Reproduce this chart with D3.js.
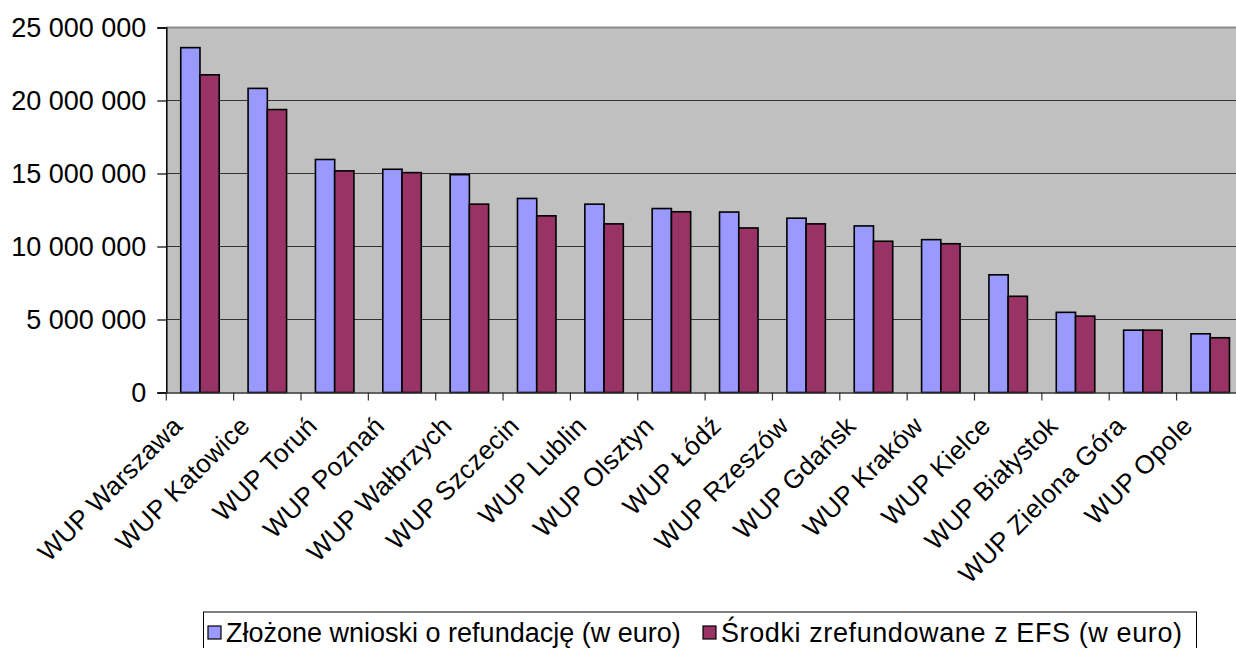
<!DOCTYPE html>
<html><head><meta charset="utf-8">
<script src="https://cdn.jsdelivr.net/npm/d3@7"></script>
<style>
html,body{margin:0;padding:0;background:#fff;}
svg text{font-family:"Liberation Sans",Arial,sans-serif;fill:#000;}
</style></head>
<body><svg id="c" width="1236" height="648"></svg>
<script>
const categories = ["WUP Warszawa","WUP Katowice","WUP Toruń","WUP Poznań","WUP Wałbrzych","WUP Szczecin","WUP Lublin","WUP Olsztyn","WUP Łódź","WUP Rzeszów","WUP Gdańsk","WUP Kraków","WUP Kielce","WUP Białystok","WUP Zielona Góra","WUP Opole"];
const seriesNames = ["Złożone wnioski o refundację (w euro)","Środki zrefundowane z EFS (w euro)"];
const submitted = [23620000,20830000,15960000,15290000,14920000,13290000,12900000,12600000,12360000,11940000,11410000,10470000,8060000,5490000,4270000,4020000];
const refunded  = [21760000,19380000,15180000,15060000,12900000,12100000,11550000,12380000,11270000,11550000,10360000,10190000,6590000,5230000,4270000,3750000];
const yTicks = [0,5000000,10000000,15000000,20000000,25000000];
const colors = ["#9999FF","#993366"];

const svg = d3.select("#c");
const pLeft = 166.3, pTop = 27.5, pBottom = 392.5, band = 67.35;
const pRight = pLeft + band*categories.length;

const x = d3.scaleBand().domain(categories).range([pLeft, pRight]).padding(0);
const y = d3.scaleLinear().domain([0,25000000]).range([pBottom, pTop]);

// plot background
svg.append("rect").attr("x",pLeft).attr("y",pTop).attr("width",pRight-pLeft).attr("height",pBottom-pTop).attr("fill","#C0C0C0");

// gridlines
svg.append("g").selectAll("line").data(yTicks.filter(d=>d>0)).join("line")
  .attr("x1",pLeft).attr("x2",pRight).attr("y1",d=>y(d)).attr("y2",d=>y(d))
  .attr("stroke",d=>d===25000000?"#8a8a8a":"#333").attr("stroke-width",d=>d===25000000?2:1.2);

// bars
const bw = x.bandwidth()/3.5;
const data = categories.map((c,i)=>({c, v:[submitted[i],refunded[i]]}));
const g = svg.append("g");
[0,1].forEach(s=>{
  g.selectAll(".b"+s).data(data).join("rect")
    .attr("class","b"+s)
    .attr("x",d=>x(d.c)+x.bandwidth()/2 - bw + s*bw)
    .attr("y",d=>y(d.v[s]))
    .attr("width",bw)
    .attr("height",d=>y(0)-y(d.v[s]))
    .attr("fill",colors[s]).attr("stroke","#000").attr("stroke-width",1.6);
});

// y axis
const yAxis = d3.axisLeft(y).tickValues(yTicks).tickSize(9).tickPadding(11)
  .tickFormat(d=>d3.format(",")(d).replace(/,/g," "));
const ya = svg.append("g").attr("transform",`translate(${pLeft},0)`).call(yAxis);
ya.select(".domain").attr("stroke","#000").attr("stroke-width",1.5);
ya.selectAll(".tick line").attr("stroke","#000").attr("stroke-width",1.2);
ya.selectAll("text").style("font-size","27px").attr("dy","0.35em");

// x axis
const xAxis = d3.axisBottom(x).tickSize(0).tickPadding(0);
const xa = svg.append("g").attr("transform",`translate(0,${pBottom})`).call(xAxis);
xa.select(".domain").attr("stroke","#333").attr("stroke-width",1.5);
svg.append("g").selectAll("line").data(categories).join("line")
  .attr("x1",d=>x(d)).attr("x2",d=>x(d)).attr("y1",pBottom).attr("y2",pBottom+8)
  .attr("stroke","#333").attr("stroke-width",1.2);
xa.selectAll(".tick text")
  .style("font-size","26px").style("letter-spacing","0.3px")
  .attr("text-anchor","end")
  .attr("transform","translate(-16,35) rotate(-45)")
  .attr("dy","0").attr("y",0);

// legend
const lg = svg.append("g");
lg.append("rect").attr("x",203.5).attr("y",612).attr("width",993).attr("height",50)
  .attr("fill","#fff").attr("stroke","#000").attr("stroke-width",1);
const legX = [208, 703];
seriesNames.forEach((n,i)=>{
  lg.append("rect").attr("x",legX[i]).attr("y",626).attr("width",13).attr("height",13)
    .attr("fill",colors[i]).attr("stroke","#000").attr("stroke-width",1.2);
  lg.append("text").attr("x",legX[i]+18).attr("y",642)
    .style("font-size","27px").style("letter-spacing",i===1?"0.6px":"0px").text(n);
});
</script></body></html>
